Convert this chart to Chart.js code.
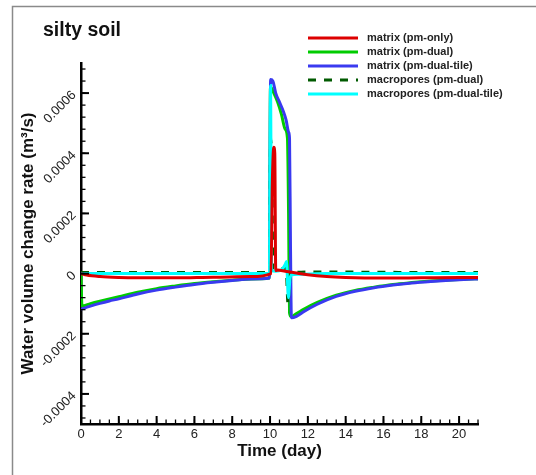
<!DOCTYPE html>
<html>
<head>
<meta charset="utf-8">
<script src="https://cdn.jsdelivr.net/npm/chart.js@4"></script>
<style>
  html, body { margin: 0; padding: 0; background: #fff; }
  #wrap { width: 536px; height: 475px; position: relative; }
</style>
</head>
<body>
<div id="wrap"><canvas id="soil-chart" width="536" height="475"></canvas></div>
<script>
// tick labels
const xTickValues = [0, 2, 4, 6, 8, 10, 12, 14, 16, 18, 20];
const yTickValues = [-0.0004, -0.0002, 0, 0.0002, 0.0004, 0.0006];
const yTickLabels = ['-0.0004', '-0.0002', '0', '0.0002', '0.0004', '0.0006'];

// matrix (pm-only)
const redDays = [0, 0.3, 1, 2, 3, 5, 7, 9, 10.05, 10.12, 10.2, 10.25, 10.3, 10.4, 10.8, 11.3, 12, 13, 14, 16, 18, 20, 21];
const redRate = [0, -0.000005, -0.00001, -0.000013, -0.000014, -0.000014, -0.000012, -0.00001, 0, 0.0003, 0.00042, 0.0004, 0.00001, 0.000012, 0.000008, 0.000003, -0.000004, -0.00001, -0.000013, -0.000015, -0.000014, -0.000013, -0.000013];

// matrix (pm-dual)
const greenDays = [0, 0.05, 0.5, 1, 2, 3, 4, 5, 6, 7, 8, 9, 9.97, 10.02, 10.2, 10.4, 10.6, 10.8, 10.92, 10.98, 11.03, 11.12, 11.4, 11.8, 12.5, 13.5, 14.5, 15.5, 16.5, 17.5, 18.5, 19.5, 20.5, 21];
const greenRate = [0, -0.000108, -0.0001, -0.000092, -0.000077, -0.000062, -0.00005, -0.000041, -0.000033, -0.000027, -0.000022, -0.000018, -0.000015, 0.00062, 0.0006, 0.00057, 0.00053, 0.00048, 0.00045, 0.0002, -0.00013, -0.000143, -0.000133, -0.000118, -0.000096, -0.000072, -0.000056, -0.000045, -0.000036, -0.00003, -0.000025, -0.000021, -0.000018, -0.000017];

// matrix (pm-dual-tile)
const blueDays = [0, 0.5, 1, 1.5, 2, 3, 4, 5, 6, 7, 8, 9, 9.97, 10.03, 10.15, 10.3, 10.5, 10.7, 10.85, 10.98, 11.03, 11.08, 11.13, 11.4, 11.8, 12.5, 13.5, 14.5, 15.5, 16.5, 17.5, 18.5, 19.5, 20.5, 21];
const blueRate = [-0.000118, -0.000108, -0.000099, -0.000091, -0.000084, -0.000068, -0.000055, -0.000045, -0.000036, -0.000029, -0.000023, -0.000018, -0.000015, 0.000645, 0.00064, 0.0006, 0.00057, 0.00054, 0.00051, 0.00047, 0.00045, 0.0001, -0.000147, -0.000142, -0.000126, -0.000102, -0.000076, -0.000059, -0.000047, -0.000038, -0.000031, -0.000026, -0.000022, -0.000019, -0.000018];

// macropores (pm-dual)
const macroDays = [0, 2, 5, 8, 9.97, 10.03, 10.1, 10.15, 10.3, 10.6, 10.85, 10.95, 11.0, 11.1, 11.3, 12, 14, 17, 21];
const macroRate = [0.000004, 0.000004, 0.000004, 0.000004, 0.000004, 0.00045, 0.0003, 0.00001, 0.000018, 0.000015, 0.00002, -0.0001, -0.00006, 0.000005, 0.000004, 0.000005, 0.000005, 0.000004, 0.000004];

// macropores (pm-dual-tile)
const tileDays = [0, 5, 9.97, 10.0, 10.03, 10.08, 10.3, 10.6, 10.8, 10.87, 10.97, 11.05, 11.15, 11.5, 13, 17, 21];
const tileRate = [0, 0, 0, 0.0004, 0.000625, 0.00001, 0.000008, 0.000012, 0.00003, 0.00004, -0.00008, -0.00002, -0.000004, -0.000002, 0, 0, 0];

function toPoints(days, rate) {
    return days.map((d, i) => ({ x: d, y: rate[i] }));
}

const fontFamily = "'Liberation Sans', Arial, sans-serif";

const series = [
    { label: 'matrix (pm-only)', days: redDays, rate: redRate, color: '#dd0000', dash: [], order: 0 },
    { label: 'matrix (pm-dual)', days: greenDays, rate: greenRate, color: '#00cc00', dash: [], order: 4 },
    { label: 'matrix (pm-dual-tile)', days: blueDays, rate: blueRate, color: '#3a3af0', dash: [], order: 3 },
    { label: 'macropores (pm-dual)', days: macroDays, rate: macroRate, color: '#005a00', dash: [8, 8], order: 2 },
    { label: 'macropores (pm-dual-tile)', days: tileDays, rate: tileRate, color: '#00ffff', dash: [], order: 1 }
];

// outer frame, title, legend and inward ticks
const decorPlugin = {
    id: 'decor',
    afterDraw(chart) {
        const c = chart.ctx;
        const xs = chart.scales.x;
        const ys = chart.scales.y;
        const left = chart.chartArea.left;
        const bottom = chart.chartArea.bottom;
        c.save();

        // gray frame
        c.strokeStyle = '#8a8a8a';
        c.lineWidth = 1.5;
        c.beginPath();
        c.moveTo(12.5, 475);
        c.lineTo(12.5, 6.5);
        c.lineTo(536, 6.5);
        c.stroke();

        // ticks pointing inward
        c.strokeStyle = '#000';
        c.lineWidth = 1.3;
        for (let i = 0; i <= 42; i++) {
            const px = xs.getPixelForValue(i * 0.5);
            c.beginPath();
            c.moveTo(px, bottom);
            c.lineTo(px, bottom - 4.5);
            c.stroke();
        }
        for (let i = -12; i <= 17; i++) {
            const py = ys.getPixelForValue(i * 0.00004);
            c.beginPath();
            c.moveTo(left, py);
            c.lineTo(left + 4.5, py);
            c.stroke();
        }
        c.lineWidth = 2;
        xTickValues.forEach(v => {
            const px = xs.getPixelForValue(v);
            c.beginPath();
            c.moveTo(px, bottom);
            c.lineTo(px, bottom - 8);
            c.stroke();
        });
        yTickValues.forEach(v => {
            const py = ys.getPixelForValue(v);
            c.beginPath();
            c.moveTo(left, py);
            c.lineTo(left + 8, py);
            c.stroke();
        });

        // title
        c.fillStyle = '#111';
        c.font = 'bold 19.5px ' + fontFamily;
        c.textAlign = 'left';
        c.textBaseline = 'alphabetic';
        c.fillText('silty soil', 43, 36);

        // legend
        c.font = 'bold 11px ' + fontFamily;
        c.textBaseline = 'middle';
        series.forEach((s, i) => {
            const y = 38 + i * 14;
            c.strokeStyle = s.color;
            c.lineWidth = 3;
            c.setLineDash(s.dash);
            c.beginPath();
            c.moveTo(308, y);
            c.lineTo(358, y);
            c.stroke();
            c.setLineDash([]);
            c.fillStyle = '#222';
            c.fillText(s.label, 367, y);
        });
        c.restore();
    }
};

const ctx = document.getElementById('soil-chart').getContext('2d');

const chart = new Chart(ctx, {
    type: 'line',
    data: {
        datasets: series.map(s => ({
            label: s.label,
            data: toPoints(s.days, s.rate),
            borderColor: s.color,
            backgroundColor: s.color,
            borderWidth: 3,
            borderDash: s.dash,
            pointRadius: 0,
            cubicInterpolationMode: 'monotone',
            fill: false,
            order: s.order
        }))
    },
    options: {
        responsive: false,
        animation: false,
        layout: {
            padding: { left: 18, right: 58, top: 63, bottom: 13 }
        },
        plugins: {
            legend: { display: false },
            tooltip: { enabled: false }
        },
        scales: {
            x: {
                type: 'linear',
                min: 0,
                max: 21,
                grid: { display: false, drawTicks: false },
                border: { display: true, color: '#000', width: 2.5 },
                afterBuildTicks: scale => {
                    scale.ticks = xTickValues.map(v => ({ value: v }));
                },
                afterFit: scale => { scale.height = 38; },
                ticks: {
                    color: '#222',
                    padding: 3,
                    maxRotation: 0,
                    autoSkip: false,
                    font: { family: fontFamily, size: 13 },
                    callback: value => String(value)
                },
                title: {
                    display: true,
                    text: 'Time (day)',
                    color: '#111',
                    padding: 0,
                    font: { family: fontFamily, size: 17, weight: 'bold' }
                }
            },
            y: {
                type: 'linear',
                min: -0.0005,
                max: 0.0007,
                grid: { display: false, drawTicks: false },
                border: { display: true, color: '#000', width: 2.5 },
                afterBuildTicks: scale => {
                    scale.ticks = yTickValues.map(v => ({ value: v }));
                },
                afterFit: scale => { scale.width = 63; },
                ticks: {
                    color: '#222',
                    padding: 7,
                    minRotation: 45,
                    maxRotation: 45,
                    autoSkip: false,
                    font: { family: fontFamily, size: 13 },
                    callback: (value, index) => yTickLabels[index]
                },
                title: {
                    display: true,
                    text: 'Water volume change rate (m³/s)',
                    color: '#111',
                    padding: 0,
                    font: { family: fontFamily, size: 17, weight: 'bold' }
                }
            }
        }
    },
    plugins: [decorPlugin]
});
</script>
</body>
</html>
